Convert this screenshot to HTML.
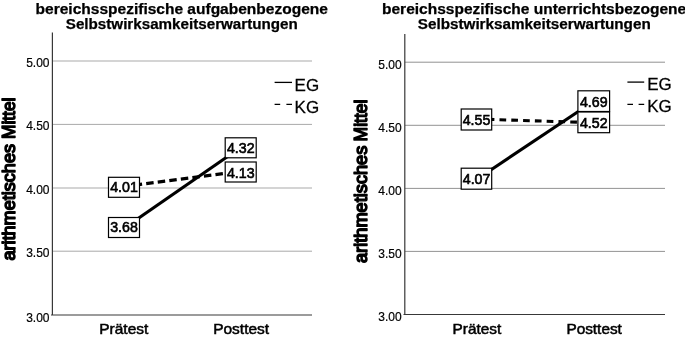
<!DOCTYPE html>
<html><head><meta charset="utf-8"><title>Selbstwirksamkeitserwartungen</title>
<style>
html,body{margin:0;padding:0;background:#fff;}
svg{display:block;}
text{font-family:"Liberation Sans",sans-serif;fill:#000;}
.t{font-weight:bold;font-size:14px;stroke:#000;stroke-width:0.25px;}
.tk{font-size:12px;fill:#000;stroke:#000;stroke-width:0.18px;}
.xl{font-size:14.4px;stroke:#000;stroke-width:0.5px;}
.lg{font-size:16.2px;stroke:#000;stroke-width:0.25px;}
.bx{font-size:14.2px;stroke:#000;stroke-width:0.6px;}
.yl{font-size:18px;stroke:#000;stroke-width:1.45px;stroke-linejoin:round;}
.g{stroke:#a4a4a4;stroke-width:0.95;}
.g2{stroke:#868686;stroke-width:0.9;}
.ax{stroke:#383838;stroke-width:1.2;fill:none;}
.box{fill:#fff;stroke:#000;stroke-width:1.2;}
</style></head>
<body>
<svg width="685" height="338" viewBox="0 0 685 338">
<rect width="685" height="338" fill="#fff"/>

<!-- LEFT CHART -->
<g id="left">
<text class="t" x="35.6" y="13.9" textLength="292.3" lengthAdjust="spacingAndGlyphs">bereichsspezifische aufgabenbezogene</text>
<text class="t" x="65.8" y="28.5" textLength="232" lengthAdjust="spacingAndGlyphs">Selbstwirksamkeitserwartungen</text>
<line class="g" x1="52.5" y1="61" x2="312" y2="61"/>
<line class="g" x1="52.5" y1="124.4" x2="312" y2="124.4"/>
<line class="g" x1="52.5" y1="188" x2="312" y2="188"/>
<line class="g" x1="52.5" y1="251.2" x2="312" y2="251.2"/>
<path class="ax" d="M52.4 32.5 V315 M51 315 H312"/>
<text class="tk" x="49.5" y="67.2" text-anchor="end">5.00</text>
<text class="tk" x="49.5" y="130.1" text-anchor="end">4.50</text>
<text class="tk" x="49.5" y="194" text-anchor="end">4.00</text>
<text class="tk" x="49.5" y="257.4" text-anchor="end">3.50</text>
<text class="tk" x="49.5" y="321.6" text-anchor="end">3.00</text>
<text class="yl" transform="translate(15.2 260.6) rotate(-90)" textLength="116.6" lengthAdjust="spacingAndGlyphs">arithmetisches</text>
<text class="yl" transform="translate(15.2 139.1) rotate(-90)" textLength="41.6" lengthAdjust="spacingAndGlyphs">Mittel</text>
<text class="xl" x="99.3" y="334.2" textLength="49" lengthAdjust="spacingAndGlyphs">Prätest</text>
<text class="xl" x="213.2" y="334.2" textLength="55.9" lengthAdjust="spacingAndGlyphs">Posttest</text>
<line x1="124" y1="186.5" x2="241" y2="171.3" stroke="#000" stroke-width="3.1" stroke-dasharray="7.5 4.14" stroke-dashoffset="0.9"/>
<line x1="124" y1="228.3" x2="241" y2="147.2" stroke="#000" stroke-width="3.1"/>
<rect class="box" x="225.2" y="137.8" width="31" height="20"/>
<text class="bx" x="240.8" y="153" text-anchor="middle">4.32</text>
<rect class="box" x="225.2" y="162" width="31" height="20"/>
<text class="bx" x="240.8" y="177.6" text-anchor="middle">4.13</text>
<rect class="box" x="108.5" y="177.3" width="31" height="20"/>
<text class="bx" x="124" y="192.2" text-anchor="middle">4.01</text>
<rect class="box" x="108.5" y="217.5" width="31" height="20"/>
<text class="bx" x="124" y="232.3" text-anchor="middle">3.68</text>
<line x1="274.6" y1="82.4" x2="292" y2="82.4" stroke="#000" stroke-width="1.3"/>
<text class="lg" transform="translate(294.6 90.5) scale(1.05 1)">EG</text>
<line x1="274.6" y1="104.4" x2="292" y2="104.4" stroke="#000" stroke-width="1.3" stroke-dasharray="5.6 6.2"/>
<text class="lg" transform="translate(294.6 112.7) scale(1.05 1)">KG</text>
</g>

<!-- RIGHT CHART -->
<g id="right">
<text class="t" x="382" y="13.9" textLength="304.2" lengthAdjust="spacingAndGlyphs">bereichsspezifische unterrichtsbezogene</text>
<text class="t" x="417.8" y="29.2" textLength="232.9" lengthAdjust="spacingAndGlyphs">Selbstwirksamkeitserwartungen</text>
<line class="g2" x1="405" y1="62.2" x2="665" y2="62.2"/>
<line class="g2" x1="405" y1="125.3" x2="665" y2="125.3"/>
<line class="g2" x1="405" y1="188.4" x2="665" y2="188.4"/>
<line class="g2" x1="405" y1="251.4" x2="665" y2="251.4"/>
<path class="ax" d="M404.8 34 V314.5 M403.5 314.5 H665"/>
<text class="tk" x="401.6" y="68.7" text-anchor="end">5.00</text>
<text class="tk" x="401.6" y="131.8" text-anchor="end">4.50</text>
<text class="tk" x="401.6" y="194.9" text-anchor="end">4.00</text>
<text class="tk" x="401.6" y="257.9" text-anchor="end">3.50</text>
<text class="tk" x="401.6" y="321.4" text-anchor="end">3.00</text>
<text class="yl" transform="translate(366.5 262.9) rotate(-90)" textLength="117.2" lengthAdjust="spacingAndGlyphs">arithmetisches</text>
<text class="yl" transform="translate(366.5 141.4) rotate(-90)" textLength="41.8" lengthAdjust="spacingAndGlyphs">Mittel</text>
<text class="xl" x="452.6" y="333.6" textLength="48.7" lengthAdjust="spacingAndGlyphs">Prätest</text>
<text class="xl" x="566.4" y="333.6" textLength="55.5" lengthAdjust="spacingAndGlyphs">Posttest</text>
<line x1="476.5" y1="119" x2="593.7" y2="122.7" stroke="#000" stroke-width="3.1" stroke-dasharray="6.7 5.1" stroke-dashoffset="0.6"/>
<line x1="476.5" y1="179.5" x2="593.7" y2="101.3" stroke="#000" stroke-width="3.1"/>
<rect class="box" x="577.9" y="90.8" width="31.7" height="20.7"/>
<text class="bx" x="593.8" y="107" text-anchor="middle">4.69</text>
<rect class="box" x="577.9" y="112" width="31.7" height="20.7"/>
<text class="bx" x="593.8" y="127.5" text-anchor="middle">4.52</text>
<rect class="box" x="461.2" y="109" width="30.5" height="21"/>
<text class="bx" x="476.5" y="124.7" text-anchor="middle">4.55</text>
<rect class="box" x="461.2" y="168.2" width="30.5" height="21"/>
<text class="bx" x="476.6" y="183.8" text-anchor="middle">4.07</text>
<line x1="627.4" y1="82.1" x2="644.2" y2="82.1" stroke="#000" stroke-width="1.3"/>
<text class="lg" transform="translate(647.2 90.1) scale(1.05 1)">EG</text>
<line x1="627.4" y1="104.3" x2="644.2" y2="104.3" stroke="#000" stroke-width="1.3" stroke-dasharray="5.6 5.6"/>
<text class="lg" transform="translate(647.2 111.9) scale(1.05 1)">KG</text>
</g>
</svg>
</body></html>
